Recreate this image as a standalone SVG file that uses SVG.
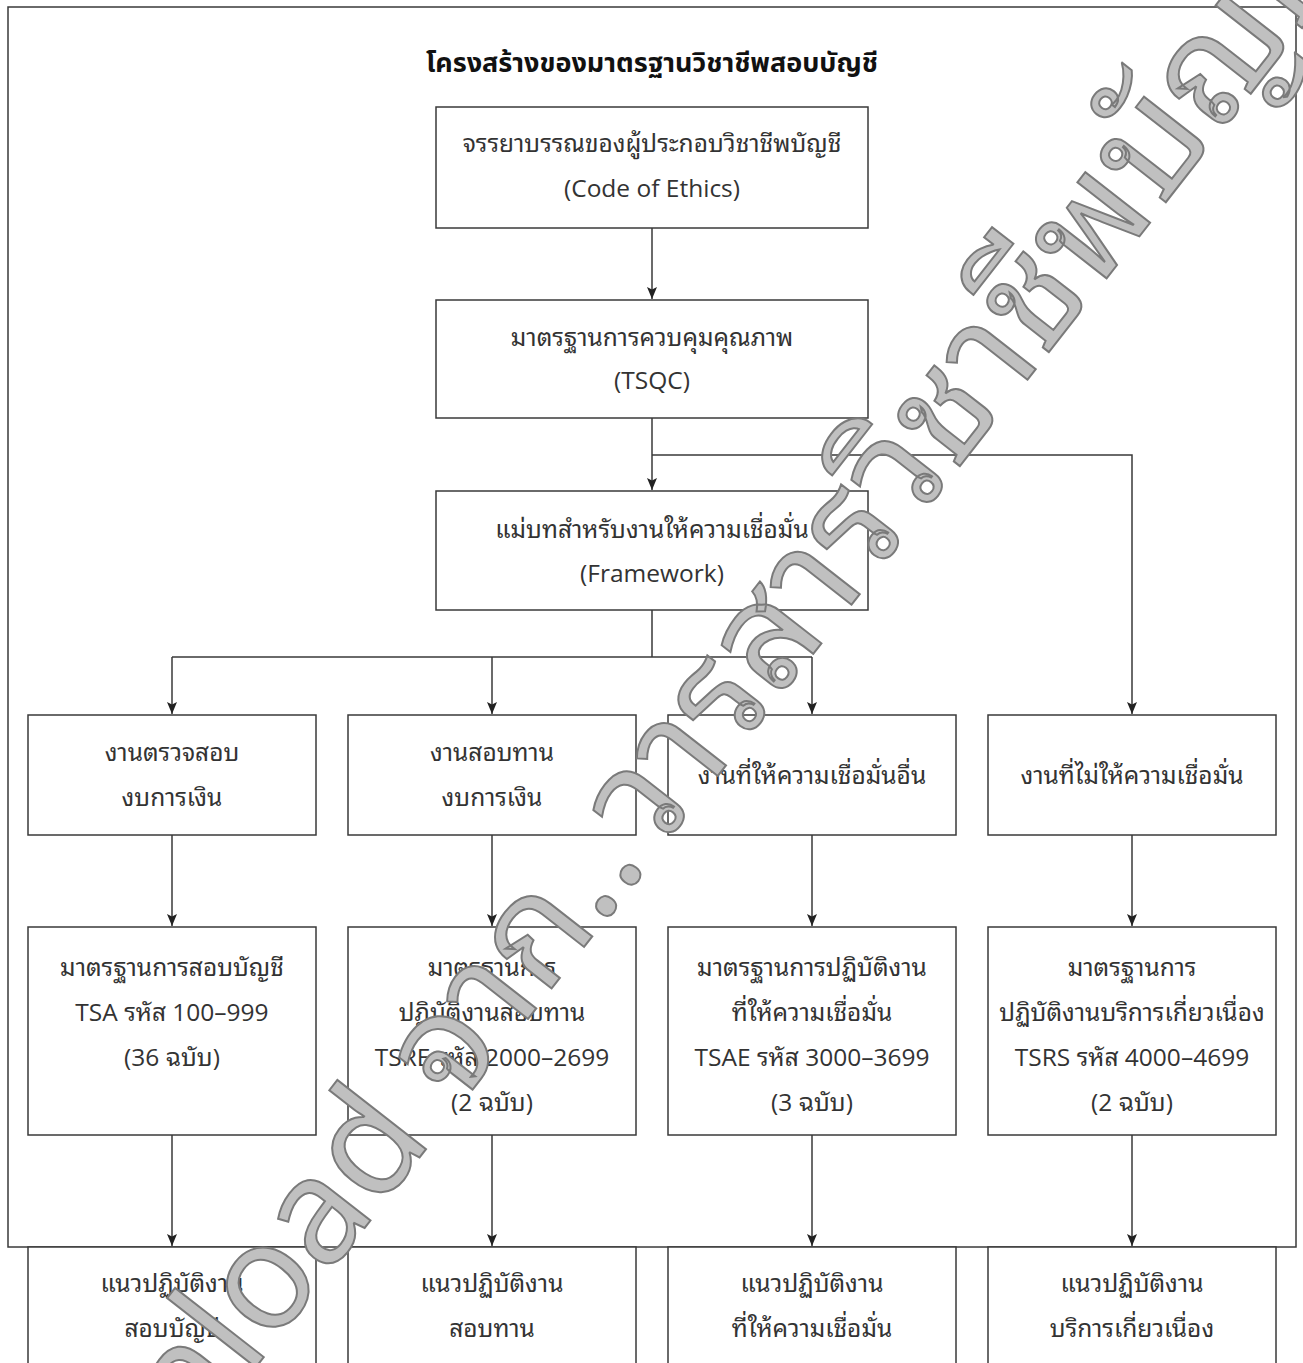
<svg xmlns="http://www.w3.org/2000/svg" width="1303" height="1363" viewBox="0 0 1303 1363">
<defs>
<style>
.box{fill:#fff;stroke:#3a3a3a;stroke-width:1.5}
.frame{fill:#fff;stroke:#3a3a3a;stroke-width:1.5}
.t{font-family:"Open Sans","Noto Sans Thai Looped","Loma","Waree","Garuda","Noto Sans Thai",sans-serif;font-size:24.5px;fill:#333;text-anchor:middle}
.title{font-family:"Noto Sans Thai","Noto Sans",sans-serif;font-size:27px;font-weight:bold;fill:#111;text-anchor:middle}
.c{fill:none;stroke:#3a3a3a;stroke-width:1.5}
.wm{font-family:"Noto Sans Thai Looped","Loma","Waree","Garuda","Noto Sans Thai","Noto Sans",sans-serif;font-size:148px;fill:#c0c0c0;stroke:#7a7a7a;stroke-width:2}
</style>
<marker id="ah" markerUnits="userSpaceOnUse" markerWidth="12" markerHeight="12" refX="12" refY="5" orient="auto">
<path d="M0,0 L12,5 L0,10 L2.5,5 z" fill="#222"/>
</marker>
</defs>
<rect class="frame" x="8" y="7" width="1288" height="1240"/>
<text class="title" x="652" y="72">โครงสร้างของมาตรฐานวิชาชีพสอบบัญชี</text>

<g id="connectors">
<path class="c" d="M652,228 V299" marker-end="url(#ah)"/>
<path class="c" d="M652,418 V490" marker-end="url(#ah)"/>
<path class="c" d="M652,455 H1132 V714" marker-end="url(#ah)"/>
<path class="c" d="M652,610 V657 M172,657 H812"/>
<path class="c" d="M172,657 V714" marker-end="url(#ah)"/>
<path class="c" d="M492,657 V714" marker-end="url(#ah)"/>
<path class="c" d="M812,657 V714" marker-end="url(#ah)"/>
<path class="c" d="M172,835 V926" marker-end="url(#ah)"/>
<path class="c" d="M492,835 V926" marker-end="url(#ah)"/>
<path class="c" d="M812,835 V926" marker-end="url(#ah)"/>
<path class="c" d="M1132,835 V926" marker-end="url(#ah)"/>
<path class="c" d="M172,1135 V1246" marker-end="url(#ah)"/>
<path class="c" d="M492,1135 V1246" marker-end="url(#ah)"/>
<path class="c" d="M812,1135 V1246" marker-end="url(#ah)"/>
<path class="c" d="M1132,1135 V1246" marker-end="url(#ah)"/>
</g>

<g id="ethics"><rect class="box" x="436" y="107" width="432" height="121"/>
<text class="t" x="652" y="152">จรรยาบรรณของผู้ประกอบวิชาชีพบัญชี</text>
<text class="t" x="652" y="197">(Code of Ethics)</text></g>

<g id="tsqc"><rect class="box" x="436" y="300" width="432" height="118"/>
<text class="t" x="652" y="346">มาตรฐานการควบคุมคุณภาพ</text>
<text class="t" x="652" y="389">(TSQC)</text></g>

<g id="framework"><rect class="box" x="436" y="491" width="432" height="119"/>
<text class="t" x="652" y="538">แม่บทสำหรับงานให้ความเชื่อมั่น</text>
<text class="t" x="652" y="582">(Framework)</text></g>

<g id="audit"><rect class="box" x="28" y="715" width="288" height="120"/>
<text class="t" x="172" y="761">งานตรวจสอบ</text>
<text class="t" x="172" y="806">งบการเงิน</text></g>

<g id="review"><rect class="box" x="348" y="715" width="288" height="120"/>
<text class="t" x="492" y="761">งานสอบทาน</text>
<text class="t" x="492" y="806">งบการเงิน</text></g>

<g id="other-assurance"><rect class="box" x="668" y="715" width="288" height="120"/>
<text class="t" x="812" y="784">งานที่ให้ความเชื่อมั่นอื่น</text></g>

<g id="non-assurance"><rect class="box" x="988" y="715" width="288" height="120"/>
<text class="t" x="1132" y="784">งานที่ไม่ให้ความเชื่อมั่น</text></g>

<g id="tsa"><rect class="box" x="28" y="927" width="288" height="208"/>
<text class="t" x="172" y="976">มาตรฐานการสอบบัญชี</text>
<text class="t" x="172" y="1021">TSA รหัส 100–999</text>
<text class="t" x="172" y="1066">(36 ฉบับ)</text></g>

<g id="tsre"><rect class="box" x="348" y="927" width="288" height="208"/>
<text class="t" x="492" y="976">มาตรฐานการ</text>
<text class="t" x="492" y="1021">ปฏิบัติงานสอบทาน</text>
<text class="t" x="492" y="1066">TSRE รหัส 2000–2699</text>
<text class="t" x="492" y="1111">(2 ฉบับ)</text></g>

<g id="tsae"><rect class="box" x="668" y="927" width="288" height="208"/>
<text class="t" x="812" y="976">มาตรฐานการปฏิบัติงาน</text>
<text class="t" x="812" y="1021">ที่ให้ความเชื่อมั่น</text>
<text class="t" x="812" y="1066">TSAE รหัส 3000–3699</text>
<text class="t" x="812" y="1111">(3 ฉบับ)</text></g>

<g id="tsrs"><rect class="box" x="988" y="927" width="288" height="208"/>
<text class="t" x="1132" y="976">มาตรฐานการ</text>
<text class="t" x="1132" y="1021">ปฏิบัติงานบริการเกี่ยวเนื่อง</text>
<text class="t" x="1132" y="1066">TSRS รหัส 4000–4699</text>
<text class="t" x="1132" y="1111">(2 ฉบับ)</text></g>

<g id="guide-audit"><rect class="box" x="28" y="1247" width="288" height="140"/>
<text class="t" x="172" y="1292">แนวปฏิบัติงาน</text>
<text class="t" x="172" y="1337">สอบบัญชี</text></g>

<g id="guide-review"><rect class="box" x="348" y="1247" width="288" height="140"/>
<text class="t" x="492" y="1292">แนวปฏิบัติงาน</text>
<text class="t" x="492" y="1337">สอบทาน</text></g>

<g id="guide-assurance"><rect class="box" x="668" y="1247" width="288" height="140"/>
<text class="t" x="812" y="1292">แนวปฏิบัติงาน</text>
<text class="t" x="812" y="1337">ที่ให้ความเชื่อมั่น</text></g>

<g id="guide-related"><rect class="box" x="988" y="1247" width="288" height="140"/>
<text class="t" x="1132" y="1292">แนวปฏิบัติงาน</text>
<text class="t" x="1132" y="1337">บริการเกี่ยวเนื่อง</text></g>

<g id="watermark" transform="translate(649,864) rotate(-52)">
<text class="wm" x="0" y="0" text-anchor="end">Download จาก..</text>
<text class="wm" x="6" y="0">วารสารวิชาชีพบัญชี</text>
</g>
</svg>
